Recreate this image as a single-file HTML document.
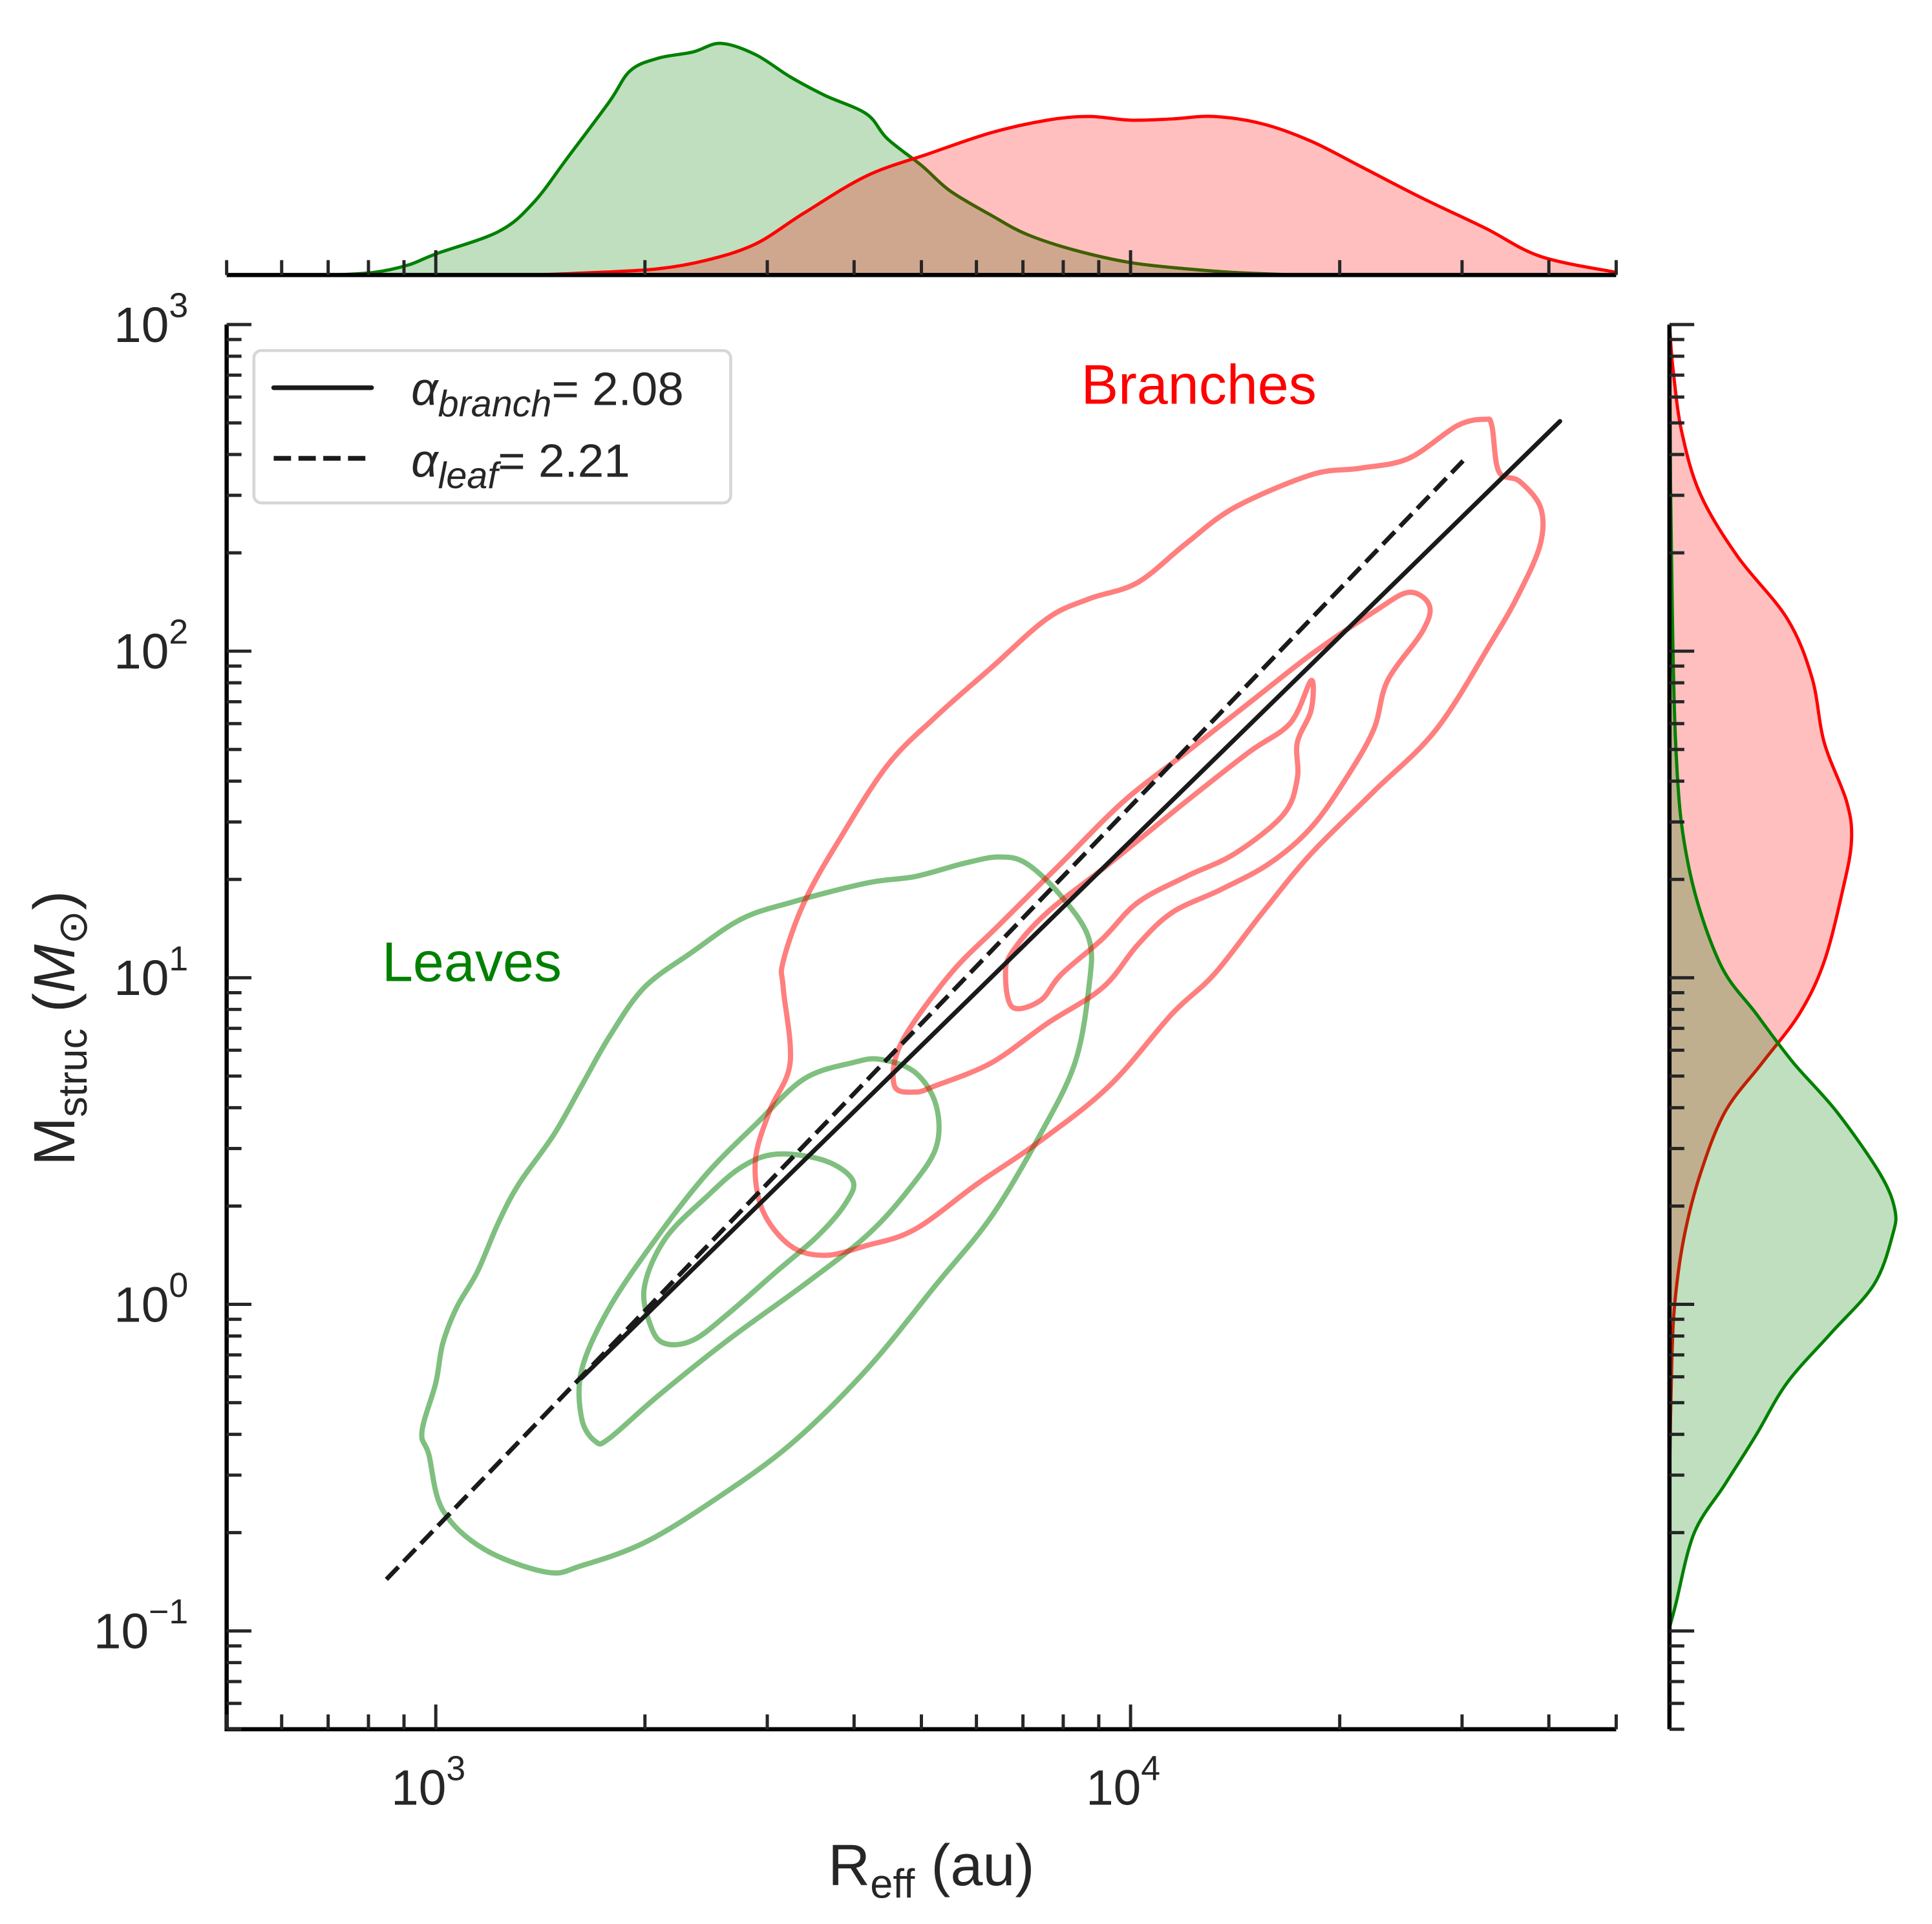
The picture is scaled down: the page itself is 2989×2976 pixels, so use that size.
<!DOCTYPE html>
<html><head><meta charset="utf-8"><style>
html,body{margin:0;padding:0;background:#fff;}
svg{display:block;}
text{font-family:"Liberation Sans",sans-serif;fill:#262626;}
</style></head><body>
<div style="position:relative;width:2989px;height:2976px;">
<svg id="chart" width="2989" height="2976" viewBox="0 0 1560 1553.2" preserveAspectRatio="none" xmlns="http://www.w3.org/2000/svg" style="position:absolute;left:0;top:0">
<g id="layer"></g>
</svg>
<svg width="2989" height="2976" viewBox="0 0 1560 1553.2" preserveAspectRatio="none" xmlns="http://www.w3.org/2000/svg" style="position:absolute;left:0;top:0">
  <g>
    <rect x="205" y="283" width="385" height="123" rx="6" fill="#fff" fill-opacity="0.85" stroke="#d6d6d6" stroke-width="2.4"/>
    <line x1="221" y1="313" x2="300" y2="313" stroke="#1a1a1a" stroke-width="3.8" stroke-linecap="round"/>
    <line x1="221" y1="370" x2="300" y2="370" stroke="#1a1a1a" stroke-width="3.8" stroke-dasharray="14,6"/>
    <text x="332" y="327" font-size="38" style="fill:#262626;font-family:'Liberation Sans',sans-serif"><tspan font-style="italic">α</tspan><tspan font-style="italic" font-size="30" dy="9">branch</tspan><tspan dy="-9">= 2.08</tspan></text>
    <text x="332" y="385" font-size="38" style="fill:#262626;font-family:'Liberation Sans',sans-serif"><tspan font-style="italic">α</tspan><tspan font-style="italic" font-size="30" dy="9">leaf</tspan><tspan dy="-9">= 2.21</tspan></text>
  </g>
  <text x="968" y="326" font-size="45" text-anchor="middle" style="fill:#ff0000;font-family:'Liberation Sans',sans-serif">Branches</text>
  <text x="381" y="792" font-size="45" text-anchor="middle" style="fill:#008000;font-family:'Liberation Sans',sans-serif">Leaves</text>
  <text x="752" y="1522" font-size="47" text-anchor="middle" style="fill:#262626;font-family:'Liberation Sans',sans-serif">R<tspan font-size="33" dy="10">eff</tspan><tspan dy="-10"> (au)</tspan></text>
  <text transform="translate(60,830) rotate(-90)" font-size="47" text-anchor="middle" style="fill:#262626;font-family:'Liberation Sans',sans-serif">M<tspan font-size="33" dy="10">struc</tspan><tspan dy="-10"> (</tspan><tspan font-style="italic">M</tspan><tspan font-size="33" dy="10">⊙</tspan><tspan dy="-10">)</tspan></text>
</svg>
</div>
<script>
// ---------- data (log10 R_eff, log10 M_struc) ----------
const greenOuter=[[2.99,-0.46],[3.01,-0.63],[3.07,-0.75],[3.16,-0.82],[3.21,-0.80],[3.30,-0.73],[3.40,-0.60],[3.51,-0.43],[3.62,-0.20],[3.72,0.06],[3.80,0.27],[3.87,0.52],[3.92,0.74],[3.94,0.97],[3.94,1.12],[3.90,1.25],[3.85,1.35],[3.81,1.37],[3.76,1.35],[3.69,1.31],[3.62,1.29],[3.51,1.23],[3.44,1.18],[3.37,1.08],[3.30,0.97],[3.25,0.82],[3.21,0.67],[3.17,0.52],[3.12,0.37],[3.09,0.25],[3.06,0.10],[3.03,-0.01],[3.01,-0.12],[3.00,-0.24],[2.98,-0.39]];
const greenMiddle=[[3.23,-0.42],[3.21,-0.35],[3.21,-0.20],[3.25,-0.01],[3.32,0.21],[3.39,0.40],[3.46,0.55],[3.53,0.69],[3.60,0.74],[3.64,0.75],[3.69,0.71],[3.72,0.61],[3.72,0.48],[3.68,0.35],[3.62,0.21],[3.53,0.06],[3.42,-0.11],[3.32,-0.28],[3.25,-0.41]];
const greenInner=[[3.31,-0.07],[3.30,0.05],[3.33,0.20],[3.39,0.33],[3.44,0.42],[3.49,0.46],[3.56,0.44],[3.60,0.38],[3.59,0.31],[3.55,0.21],[3.49,0.10],[3.42,-0.03],[3.37,-0.11],[3.33,-0.12]];
const redOuter=[[3.50,0.97],[3.51,0.74],[3.48,0.59],[3.46,0.44],[3.47,0.29],[3.51,0.18],[3.56,0.15],[3.62,0.18],[3.69,0.23],[3.78,0.37],[3.87,0.50],[3.97,0.67],[4.06,0.89],[4.12,1.01],[4.19,1.20],[4.26,1.38],[4.35,1.57],[4.44,1.76],[4.52,2.03],[4.56,2.18],[4.59,2.33],[4.59,2.44],[4.56,2.52],[4.53,2.55],[4.52,2.69],[4.51,2.71],[4.47,2.69],[4.40,2.59],[4.33,2.56],[4.26,2.54],[4.15,2.44],[4.08,2.33],[4.01,2.21],[3.94,2.16],[3.88,2.10],[3.80,1.95],[3.72,1.80],[3.65,1.65],[3.58,1.42],[3.53,1.23],[3.50,1.05]];
const redMiddle=[[3.66,0.67],[3.67,0.80],[3.74,1.01],[3.81,1.16],[3.90,1.35],[3.99,1.54],[4.08,1.69],[4.17,1.84],[4.26,1.99],[4.35,2.12],[4.40,2.18],[4.43,2.14],[4.42,2.06],[4.37,1.91],[4.35,1.76],[4.31,1.61],[4.26,1.46],[4.20,1.35],[4.13,1.27],[4.06,1.20],[4.01,1.10],[3.96,0.97],[3.88,0.86],[3.80,0.74],[3.72,0.67],[3.69,0.65]];
const redInner=[[3.83,0.91],[3.82,1.01],[3.83,1.08],[3.88,1.20],[3.97,1.35],[4.08,1.54],[4.17,1.69],[4.23,1.78],[4.26,1.91],[4.26,1.82],[4.24,1.72],[4.24,1.61],[4.22,1.50],[4.15,1.38],[4.08,1.31],[4.01,1.23],[3.96,1.12],[3.90,1.01],[3.87,0.93]];
const branchAlpha=2.08, branchNorm=26.2, branchRange=[1620,41500];
const leafAlpha=2.21, leafNorm=33.5, leafRange=[849,30100];
const topGreenX=[2.85,2.91,2.96,3.00,3.09,3.14,3.19,3.25,3.28,3.32,3.37,3.41,3.46,3.51,3.56,3.62,3.65,3.70,3.74,3.80,3.85,3.92,4.00,4.08,4.15,4.24];
const topGreenD=[0,0.02,0.08,0.17,0.35,0.58,0.95,1.40,1.65,1.75,1.80,1.87,1.78,1.60,1.45,1.30,1.10,0.88,0.68,0.48,0.33,0.20,0.10,0.05,0.02,0];
const topRedX=[3.14,3.23,3.32,3.39,3.46,3.53,3.62,3.71,3.80,3.88,3.94,4.00,4.06,4.12,4.19,4.26,4.33,4.42,4.51,4.59,4.70];
const topRedD=[0,0.02,0.05,0.12,0.25,0.50,0.80,0.98,1.15,1.25,1.28,1.25,1.26,1.28,1.22,1.08,0.88,0.62,0.38,0.15,0.02];
const rightRedY=[3.00,2.86,2.67,2.48,2.29,2.10,1.92,1.72,1.54,1.42,1.27,1.05,0.89,0.74,0.59,0.40,0.21,0.03,-0.16,-0.54];
const rightRedD=[0,0.03,0.10,0.25,0.55,0.95,1.15,1.25,1.43,1.47,1.40,1.25,1.05,0.75,0.45,0.25,0.12,0.05,0.02,0];
const rightGreenY=[3.00,2.48,1.72,1.35,1.05,0.89,0.74,0.59,0.40,0.29,0.21,0.06,-0.09,-0.24,-0.40,-0.55,-0.70,-0.92,-0.99];
const rightGreenD=[0,0.01,0.05,0.15,0.40,0.70,1.00,1.35,1.70,1.82,1.80,1.65,1.30,0.95,0.70,0.45,0.20,0.05,0];
const xTickExp=[3,4];
const yTickExp=[-1,0,1,2,3];

const L=183,R=1305,T=262,B=1396;
const lxMin=Math.log10(500),lxMax=Math.log10(50000),lyMin=Math.log10(0.05),lyMax=3;
const X=lx=>L+(lx-lxMin)/(lxMax-lxMin)*(R-L);
const Y=ly=>B-(ly-lyMin)/(lyMax-lyMin)*(B-T);
const topBase=222, topScale=100, rightBase=1348, rightScale=100;
const NS='http://www.w3.org/2000/svg';
const layer=document.getElementById('layer');
function mk(tag,attrs,parent){const e=document.createElementNS(NS,tag);for(const k in attrs)e.setAttribute(k,attrs[k]);(parent||layer).appendChild(e);return e;}
function smooth(pts,closed){
  const n=pts.length;let d='M'+pts[0][0].toFixed(1)+','+pts[0][1].toFixed(1);
  const get=i=>closed?pts[(i+n)%n]:pts[Math.max(0,Math.min(n-1,i))];
  const m=closed?n:n-1;
  for(let i=0;i<m;i++){const p0=get(i-1),p1=get(i),p2=get(i+1),p3=get(i+2);
    const c1=[p1[0]+(p2[0]-p0[0])/6,p1[1]+(p2[1]-p0[1])/6],c2=[p2[0]-(p3[0]-p1[0])/6,p2[1]-(p3[1]-p1[1])/6];
    d+='C'+c1.map(v=>v.toFixed(1)).join(',')+' '+c2.map(v=>v.toFixed(1)).join(',')+' '+p2[0].toFixed(1)+','+p2[1].toFixed(1);}
  return d+(closed?'Z':'');
}
function topKde(xs,ds,fill,stroke,name){
  const pts=xs.map((x,i)=>[X(x),topBase-ds[i]*topScale]);
  const line=smooth(pts,false);
  const f=mk('path',{d:line+'L'+pts[pts.length-1][0]+','+topBase+'L'+pts[0][0]+','+topBase+'Z',fill:fill,stroke:'none'});
  
  
  const s=mk('path',{d:line,fill:'none',stroke:stroke,'stroke-width':2.6});
  
  
}
topKde(topGreenX,topGreenD,'rgba(0,128,0,0.25)','#008000','top-kde-leaves');
topKde(topRedX,topRedD,'rgba(255,0,0,0.25)','#ff0000','top-kde-branches');
function rightKde(ys,ds,fill,stroke,name){
  const pts=ys.map((y,i)=>[rightBase+ds[i]*rightScale,Y(y)]);
  const line=smooth(pts,false);
  const f=mk('path',{d:line+'L'+rightBase+','+pts[pts.length-1][1]+'L'+rightBase+','+pts[0][1]+'Z',fill:fill,stroke:'none'});
  
  
  const s=mk('path',{d:line,fill:'none',stroke:stroke,'stroke-width':2.6});
  
  
}
rightKde(rightRedY,rightRedD,'rgba(255,0,0,0.25)','#ff0000','right-kde-branches');
rightKde(rightGreenY,rightGreenD,'rgba(0,128,0,0.25)','#008000','right-kde-leaves');

const contours=[[greenOuter,'rgba(0,128,0,0.5)','leaves-contour-outer'],[greenMiddle,'rgba(0,128,0,0.5)','leaves-contour-middle'],[greenInner,'rgba(0,128,0,0.5)','leaves-contour-inner'],[redOuter,'rgba(255,0,0,0.5)','branches-contour-outer'],[redMiddle,'rgba(255,0,0,0.5)','branches-contour-middle'],[redInner,'rgba(255,0,0,0.5)','branches-contour-inner']];
contours.forEach(c=>{
  const p=mk('path',{d:smooth(c[0].map(q=>[X(q[0]),Y(q[1])]),true),fill:'none',stroke:c[1],'stroke-width':4.2,'stroke-linejoin':'round'});
  
  
});
function fit(alpha,norm,range,dash,name){
  const m=r=>Math.log10(norm)+alpha*(Math.log10(r)-4);
  const a={x1:X(Math.log10(range[0])),y1:Y(m(range[0])),x2:X(Math.log10(range[1])),y2:Y(m(range[1])),stroke:'#1a1a1a','stroke-width':3.6,'stroke-linecap':dash?'butt':'round'};
  if(dash)a['stroke-dasharray']='14,6';
  const l=mk('line',a);
  
  
}
fit(leafAlpha,leafNorm,leafRange,true,'leaf-fit-line');
fit(branchAlpha,branchNorm,branchRange,false,'branch-fit-line');

const ax=mk('g',{stroke:'#000','stroke-width':3.4,fill:'none'});


mk('polyline',{points:`${L},${T} ${L},${B} ${R},${B}`},ax);
mk('line',{x1:L,y1:topBase,x2:R,y2:topBase},ax);
mk('line',{x1:rightBase,y1:T,x2:rightBase,y2:B},ax);
const tk=mk('g',{stroke:'#262626','stroke-width':2.6});


for(let e=2;e<=4;e++)for(let k=1;k<10;k++){
  const lx=e+Math.log10(k); if(lx<lxMin-1e-9||lx>lxMax+1e-9)continue;
  const len=k===1?20:12, x=X(lx);
  mk('line',{x1:x,y1:B,x2:x,y2:B-len},tk);
  mk('line',{x1:x,y1:topBase,x2:x,y2:topBase-len},tk);
}
for(let e=-2;e<=2;e++)for(let k=1;k<10;k++){
  const ly=e+Math.log10(k); if(ly<lyMin-1e-9||ly>lyMax+1e-9)continue;
  const len=k===1?20:12, y=Y(ly);
  mk('line',{x1:L,y1:y,x2:L+len,y2:y},tk);
  mk('line',{x1:rightBase,y1:y,x2:rightBase+len,y2:y},tk);
}
mk('line',{x1:L,y1:Y(3),x2:L+20,y2:Y(3)},tk);
mk('line',{x1:rightBase,y1:Y(3),x2:rightBase+20,y2:Y(3)},tk);

xTickExp.forEach(e=>{
  const t=mk('text',{x:X(e)-6,y:1457,'font-size':40,'text-anchor':'middle'});
  
  
  t.innerHTML='10<tspan dy="-20" font-size="28">'+e+'</tspan>';
});
yTickExp.forEach(e=>{
  const t=mk('text',{x:152,y:Y(e)+14,'font-size':40,'text-anchor':'end'});
  
  
  t.innerHTML='10<tspan dy="-20" font-size="28">'+(e<0?'\u2212'+(-e):e)+'</tspan>';
});
</script>
</body></html>
